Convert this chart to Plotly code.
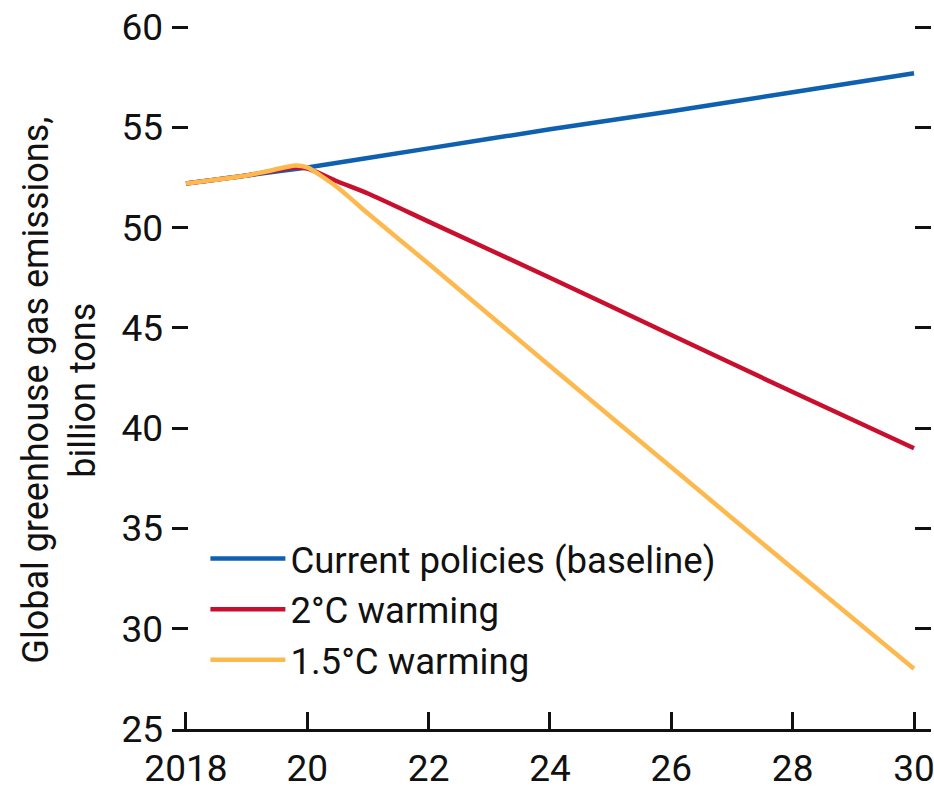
import plotly.graph_objects as go

# Data (billion tons)
years_base = [2018, 2019, 2020, 2022, 2024, 2026, 2028, 2030]
current_policies = [52.2, 52.6, 53.0, 53.95, 54.9, 55.8, 56.75, 57.7]

years_2c = [2018, 2019, 2019.8, 2020, 2020.5, 2021, 2022, 2024, 2026, 2028, 2030]
warming_2c = [52.2, 52.6, 53.0, 52.95, 52.3, 51.7, 50.3, 47.5, 44.65, 41.8, 39.0]

years_15c = [2018, 2019, 2019.4, 2019.8, 2020, 2020.5, 2021, 2022, 2024, 2026, 2028, 2030]
warming_15c = [52.2, 52.6, 52.85, 53.1, 53.0, 52.0, 50.7, 48.2, 43.1, 38.05, 33.0, 28.0]

series_names = ["Current policies (baseline)", "2°C warming", "1.5°C warming"]
colors = ["#1060b0", "#c8102e", "#fdb94e"]

x_tickvals = [2018, 2020, 2022, 2024, 2026, 2028, 2030]
x_ticktext = ["2018", "20", "22", "24", "26", "28", "30"]
y_tickvals = [25, 30, 35, 40, 45, 50, 55, 60]
y_title = "Global greenhouse gas emissions,<br>billion tons"

FONT = "Roboto, 'Liberation Sans', Arial, sans-serif"
INK = "#111111"

fig = go.Figure()
for xs, ys, name, col in zip([years_base, years_2c, years_15c],
                             [current_policies, warming_2c, warming_15c],
                             series_names, colors):
    fig.add_trace(go.Scatter(
        x=xs, y=ys, name=name, mode="lines",
        line=dict(color=col, width=4.5, shape="spline", smoothing=0.6),
    ))

fig.update_layout(
    width=934, height=789,
    margin=dict(l=172, r=3, t=7, b=60, autoexpand=False),
    paper_bgcolor="white", plot_bgcolor="white",
    font=dict(family=FONT, size=37, color=INK),
    showlegend=True,
    legend=dict(
        x=0.044, y=0.278, xanchor="left", yanchor="top",
        bgcolor="rgba(0,0,0,0)", borderwidth=0,
        font=dict(size=36.6, family=FONT, color=INK),
        itemwidth=75, tracegroupgap=0,
    ),
    annotations=[dict(
        text=y_title, textangle=-90, showarrow=False,
        xref="paper", yref="paper", x=-0.1476, y=0.470,
        xanchor="center", yanchor="middle",
        font=dict(size=36, family=FONT, color=INK),
    )],
)

fig.update_xaxes(
    range=[2017.77, 2030.28],
    tickmode="array", tickvals=x_tickvals, ticktext=x_ticktext,
    ticks="inside", ticklen=17, tickwidth=3, tickcolor=INK,
    showline=True, linewidth=3, linecolor=INK,
    showgrid=False, zeroline=False,
    tickfont=dict(size=37, family=FONT, color=INK),
    ticklabelstandoff=5, ticklabeloverflow="allow",
)
fig.update_yaxes(
    range=[25, 61],
    tickmode="array", tickvals=y_tickvals,
    ticks="inside", ticklen=16, tickwidth=3, tickcolor=INK,
    mirror="ticks", showline=False,
    showgrid=False, zeroline=False,
    tickfont=dict(size=37, family=FONT, color=INK),
    ticklabelstandoff=8, ticklabeloverflow="allow",
)

fig.write_html(
    "out.html",
    config={"displayModeBar": False},
    post_script="document.body.style.margin='0';document.body.style.overflow='hidden';",
)
